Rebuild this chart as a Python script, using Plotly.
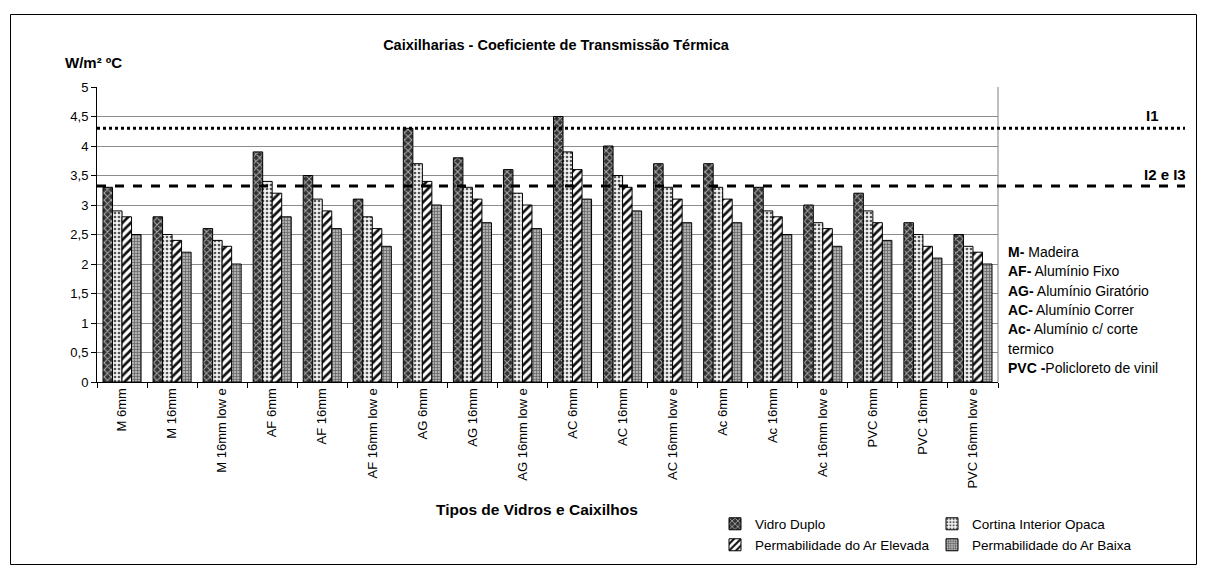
import plotly.graph_objects as go

categories = ["M 6mm", "M 16mm", "M 16mm low e", "AF 6mm", "AF 16mm", "AF 16mm low e",
              "AG 6mm", "AG 16mm", "AG 16mm low e", "AC 6mm", "AC 16mm", "AC 16mm low e",
              "Ac 6mm", "Ac 16mm", "Ac 16mm low e", "PVC 6mm", "PVC 16mm", "PVC 16mm low e"]

vidro_duplo = [3.3, 2.8, 2.6, 3.9, 3.5, 3.1, 4.3, 3.8, 3.6, 4.5, 4.0, 3.7, 3.7, 3.3, 3.0, 3.2, 2.7, 2.5]
cortina_opaca = [2.9, 2.5, 2.4, 3.4, 3.1, 2.8, 3.7, 3.3, 3.2, 3.9, 3.5, 3.3, 3.3, 2.9, 2.7, 2.9, 2.5, 2.3]
perm_elevada = [2.8, 2.4, 2.3, 3.2, 2.9, 2.6, 3.4, 3.1, 3.0, 3.6, 3.3, 3.1, 3.1, 2.8, 2.6, 2.7, 2.3, 2.2]
perm_baixa = [2.5, 2.2, 2.0, 2.8, 2.6, 2.3, 3.0, 2.7, 2.6, 3.1, 2.9, 2.7, 2.7, 2.5, 2.3, 2.4, 2.1, 2.0]

series_names = ["Vidro Duplo", "Cortina Interior Opaca",
                "Permabilidade do Ar Elevada", "Permabilidade do Ar Baixa"]

limit_i1 = 4.3
limit_i2_i3 = 3.32

legend_notes = [("M-", " Madeira"), ("AF-", " Alumínio Fixo"), ("AG-", " Alumínio Giratório"),
                ("AC-", " Alumínio Correr"), ("Ac-", " Alumínio c/ corte"), ("", "termico"),
                ("PVC -", "Policloreto de vinil")]

FONT = "Arial, Liberation Sans, sans-serif"

OFF = 8  # page body margin
W, H = 1190, 557
L = 97 - OFF
PR = 998 - OFF
PT = 87 - OFF
PB = 382 - OFF
R = W - PR
B = H - PB
PW, PH = PR - L, PB - PT


def px_x(px):
    return (px - OFF - L) / PW


def px_y(py):
    return (PB - (py - OFF)) / PH


styles = [
    dict(color="#333333", pattern=dict(shape="x", fgcolor="#b0b0b0", bgcolor="#333333",
                                        size=5, solidity=0.35, fillmode="replace")),
    dict(color="#f2f2f2", pattern=dict(shape=".", fgcolor="#555555", bgcolor="#f2f2f2",
                                        size=4, solidity=0.35, fillmode="replace")),
    dict(color="#ffffff", pattern=dict(shape="/", fgcolor="#111111", bgcolor="#ffffff",
                                        size=6, solidity=0.45, fillmode="replace")),
    dict(color="#9a9a9a", pattern=dict(shape="+", fgcolor="#606060", bgcolor="#b0b0b0",
                                        size=3, solidity=0.4, fillmode="replace")),
]

values = [vidro_duplo, cortina_opaca, perm_elevada, perm_baixa]
legends = ["legend", "legend", "legend2", "legend2"]

fig = go.Figure()
for name, vals, st, lg in zip(series_names, values, styles, legends):
    fig.add_trace(go.Bar(
        x=categories, y=vals, name=name, legend=lg,
        marker=dict(color=st["color"], pattern=st["pattern"],
                    line=dict(color="black", width=1)),
    ))

# limit lines
fig.add_shape(type="line", xref="paper", yref="y", x0=0, x1=px_x(1185),
              y0=limit_i1, y1=limit_i1, line=dict(color="black", width=3, dash="dot"))
fig.add_shape(type="line", xref="paper", yref="y", x0=0, x1=px_x(1185),
              y0=limit_i2_i3, y1=limit_i2_i3, line=dict(color="black", width=3, dash="dash"))

# outer border
fig.add_shape(type="rect", xref="paper", yref="paper", x0=px_x(10.5), x1=px_x(1196.5),
              y0=px_y(564.5), y1=px_y(14.5), line=dict(color="black", width=1), layer="below")

# plot-area right border
fig.add_shape(type="line", xref="paper", yref="paper", x0=1, x1=1, y0=0, y1=1,
              line=dict(color="#808080", width=1), layer="below")

annotations = [
    dict(text="<b>I1</b>", x=px_x(1152), y=limit_i1, yref="y", xref="paper",
         yshift=13, showarrow=False, font=dict(size=15, color="black", family=FONT),
         xanchor="center", yanchor="middle"),
    dict(text="<b>I2 e I3</b>", x=px_x(1165), y=limit_i2_i3, yref="y", xref="paper",
         yshift=12, showarrow=False, font=dict(size=15, color="black", family=FONT),
         xanchor="center", yanchor="middle"),
    dict(text="<b>W/m² ºC</b>", x=px_x(63), y=px_y(62), xref="paper", yref="paper",
         showarrow=False, font=dict(size=15, color="black", family=FONT),
         xanchor="left", yanchor="middle"),
    dict(text="<b>Tipos de Vidros e Caixilhos</b>", x=px_x(537), y=px_y(509),
         xref="paper", yref="paper", showarrow=False,
         font=dict(size=15.5, color="black", family=FONT), xanchor="center", yanchor="middle"),
]

note_y0 = 252
for i, (b, rest) in enumerate(legend_notes):
    txt = (f"<b>{b}</b>" if b else "") + rest
    annotations.append(dict(text=txt, x=px_x(1006), y=px_y(note_y0 + i * 19.3),
                            xref="paper", yref="paper", showarrow=False,
                            font=dict(size=14, color="black", family=FONT),
                            xanchor="left", yanchor="middle"))

fig.update_layout(
    width=W, height=H,
    margin=dict(l=L, r=R, t=PT, b=B, autoexpand=False),
    paper_bgcolor="white", plot_bgcolor="white",
    separators=",.",
    font=dict(family=FONT, size=12, color="black"),
    title=dict(text="<b>Caixilharias - Coeficiente de Transmissão Térmica</b>",
               x=px_x(556), xref="paper", xanchor="center",
               y=1 - (45 - OFF) / H, yref="container", yanchor="middle",
               font=dict(size=14.5, color="black", family=FONT)),
    barmode="group", bargap=0.24, bargroupgap=0,
    xaxis=dict(showline=True, linecolor="black", linewidth=1, ticks="outside",
               tickson="boundaries", ticklen=5, tickcolor="black", tickangle=-90,
               showgrid=False, automargin=False, tickfont=dict(size=13, family=FONT)),
    yaxis=dict(range=[0, 5], dtick=0.5, showline=True, linecolor="black", linewidth=1,
               ticks="outside", ticklen=5, tickcolor="black", showgrid=True,
               gridcolor="#8c8c8c", gridwidth=1, zeroline=False, automargin=False,
               tickfont=dict(size=13, family=FONT)),
    legend=dict(orientation="h", x=px_x(715), y=px_y(524), xanchor="left", yanchor="middle",
                entrywidth=172, entrywidthmode="pixels", font=dict(size=13.5, family=FONT),
                bgcolor="rgba(0,0,0,0)", traceorder="normal"),
    legend2=dict(orientation="h", x=px_x(715), y=px_y(545), xanchor="left", yanchor="middle",
                 entrywidth=172, entrywidthmode="pixels", font=dict(size=13.5, family=FONT),
                 bgcolor="rgba(0,0,0,0)", traceorder="normal"),
    annotations=annotations,
)

fig.write_html("out.html")
